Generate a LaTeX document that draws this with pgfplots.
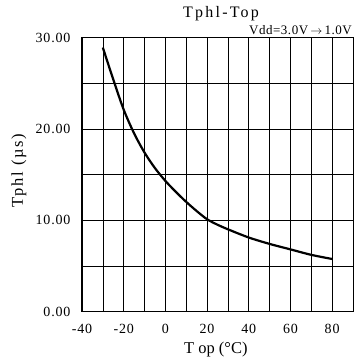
\documentclass[border=0pt]{standalone}
\usepackage{fontspec}
\setmainfont{Liberation Serif}
\usepackage{pgfplots}
\pgfplotsset{compat=1.18}
\begin{document}
\begin{tikzpicture}
\useasboundingbox (-82pt,-49.5pt) rectangle (278pt,311.5pt);
\begin{axis}[
  scale only axis,
  width=271pt, height=274pt,
  xmin=-40, xmax=90, ymin=0, ymax=30,
  xtick={-40,-20,...,80},
  minor xtick={-30,-10,...,90},
  ytick={0,10,20,30},
  minor ytick={5,15,25},
  grid=both,
  major grid style={black, line width=0.6pt},
  minor grid style={black, line width=0.6pt},
  axis line style={black, line width=1pt},
  tick style={draw=none},
  /pgf/number format/assume math mode=true,
  yticklabel={\pgfmathprintnumber[fixed,fixed zerofill,precision=2]{\tick}},
  ticklabel style={font=\fontsize{14}{16}\selectfont\addfontfeature{LetterSpace=6}},
  xticklabel style={yshift=-9pt},
  yticklabel style={xshift=-8pt},
  xlabel={T op (°C)},
  ylabel={Tphl (µs)},
  xlabel style={font=\fontsize{16.5}{18}\selectfont, at={(axis description cs:0.494,-0.14)}, anchor=center},
  ylabel style={font=\fontsize{16.5}{18}\selectfont\addfontfeature{LetterSpace=10}, at={(axis description cs:-0.2325,0.513)}, anchor=center},
  clip=false,
]
\addplot[black, line width=2.2pt, smooth, tension=0.5] coordinates {
(-30,28.9) (-25,25.4) (-20,22.1) (-15,19.5) (-10,17.4) (-5,15.7) (0,14.3) (5,13.1) (10,12.0) (15,11.0) (20,10.1) (25,9.5) (30,9.0) (40,8.1) (50,7.4) (60,6.8) (70,6.2) (80,5.75)
};
\node[anchor=center, font=\fontsize{16}{17}\selectfont\addfontfeature{LetterSpace=14}] at (axis description cs:0.513,1.086) {Tphl-Top};
\node[anchor=base east, inner sep=0pt, font=\fontsize{13}{14}\selectfont\addfontfeature{LetterSpace=4}] at (axis description cs:0.996,1.011) {Vdd=3.0V\,\ensuremath{\rightarrow}\,1.0V};
\end{axis}
\end{tikzpicture}
\end{document}
